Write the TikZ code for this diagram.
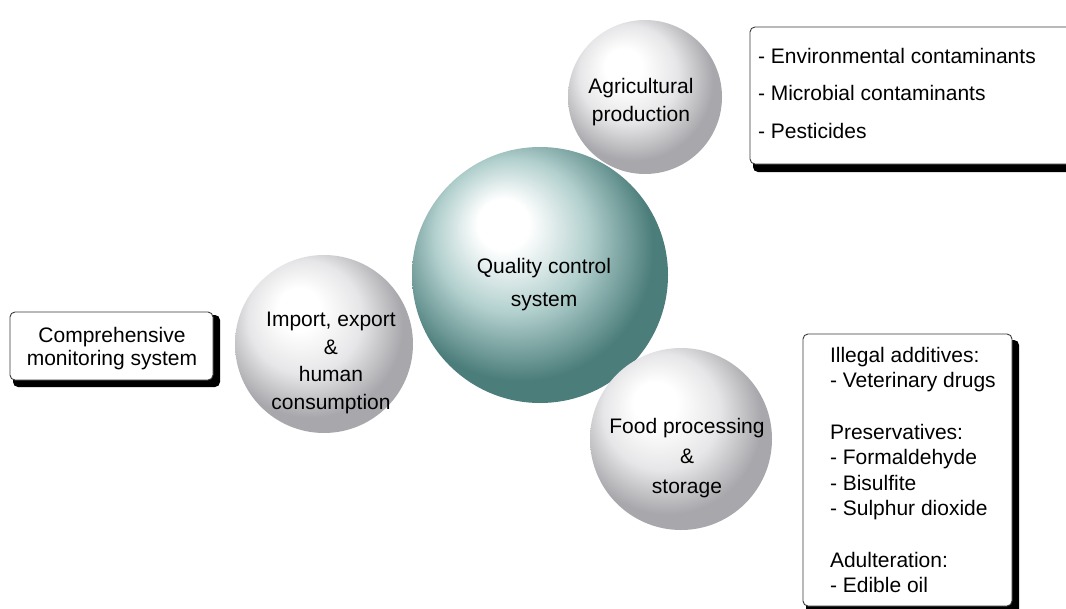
\documentclass[tikz,border=0pt]{standalone}
\usepackage{fontspec}
\setmainfont{Liberation Sans}
\definecolor{tealedge}{HTML}{4B7D7A}
\definecolor{tealmid}{HTML}{B2D0CE}
\definecolor{greyedge}{HTML}{A8A8AC}
\definecolor{greymid}{HTML}{E6E6E8}
\definecolor{boxline}{HTML}{3A3A3A}
% sphere shadings: broad highlight up and to the left
\pgfdeclareradialshading{tealball}{\pgfqpoint{-8bp}{11bp}}{%
  color(0bp)=(white); color(5bp)=(white); color(15bp)=(tealmid);
  color(26bp)=(tealedge); color(50bp)=(tealedge)}
\pgfdeclareradialshading{greyball}{\pgfqpoint{-8bp}{11bp}}{%
  color(0bp)=(white); color(6bp)=(white); color(16bp)=(greymid);
  color(26bp)=(greyedge); color(50bp)=(greyedge)}
\begin{document}
\begin{tikzpicture}[x=1pt,y=-1pt,
  every node/.style={inner sep=0pt,outer sep=0pt},
  sphere/.style={circle,draw=none,shade,minimum size=#1},
  bigsphere/.style={sphere=#1,shading=tealball},
  smallsphere/.style={sphere=#1,shading=greyball},
  lbl/.style={font=\fontsize{21}{#1}\selectfont,align=center,anchor=north},
  listtext/.style={font=\fontsize{21}{#1}\selectfont,align=left,anchor=north west},
  framebox/.style={draw=boxline,line width=0.9pt,fill=white,rounded corners=5pt},
  shadowbox/.style={fill=black,rounded corners=5pt}]
\useasboundingbox (0,0) rectangle (1066,608);
\clip (0,0) rectangle (1066,608);

% spheres
\node[bigsphere=256pt] (qcs) at (540,275) {};
\node[smallsphere=154pt] (agri) at (645,97) {};
\node[smallsphere=178pt] (trade) at (324,344) {};
\node[smallsphere=182pt] (food) at (681,439) {};

\node[lbl=33] (qcstext) at (544,258) {Quality control\\system};
\node[lbl=28] (agritext) at (641,78) {Agricultural\\production};
\node[lbl=27.7] (tradetext) at (331,312) {Import, export\\\&\\human\\consumption};
\node[lbl=30] (foodtext) at (687,418) {Food processing\\\&\\storage};

% contaminant list, upper right
\fill[shadowbox] (753,32) rectangle (1090,172);
\draw[framebox] (750,27) rectangle (1085,164);
\node[listtext=37.5] (contam) at (758,48)
  {- Environmental contaminants\\- Microbial contaminants\\- Pesticides};

% monitoring box, left
\fill[shadowbox] (13,315) rectangle (220,387);
\draw[framebox] (10,312) rectangle (213,380);
\node[lbl=23] (monitor) at (112,327) {Comprehensive\\monitoring system};

% additives list, lower right
\fill[shadowbox] (806,340) rectangle (1019,614);
\draw[framebox] (803,334) rectangle (1012,606);
\node[listtext=25.6] (additives) at (830,347)
  {Illegal additives:\\- Veterinary drugs\\[25.6pt]Preservatives:\\- Formaldehyde\\- Bisulfite\\- Sulphur dioxide\\[25.6pt]Adulteration:\\- Edible oil};
\end{tikzpicture}
\end{document}
